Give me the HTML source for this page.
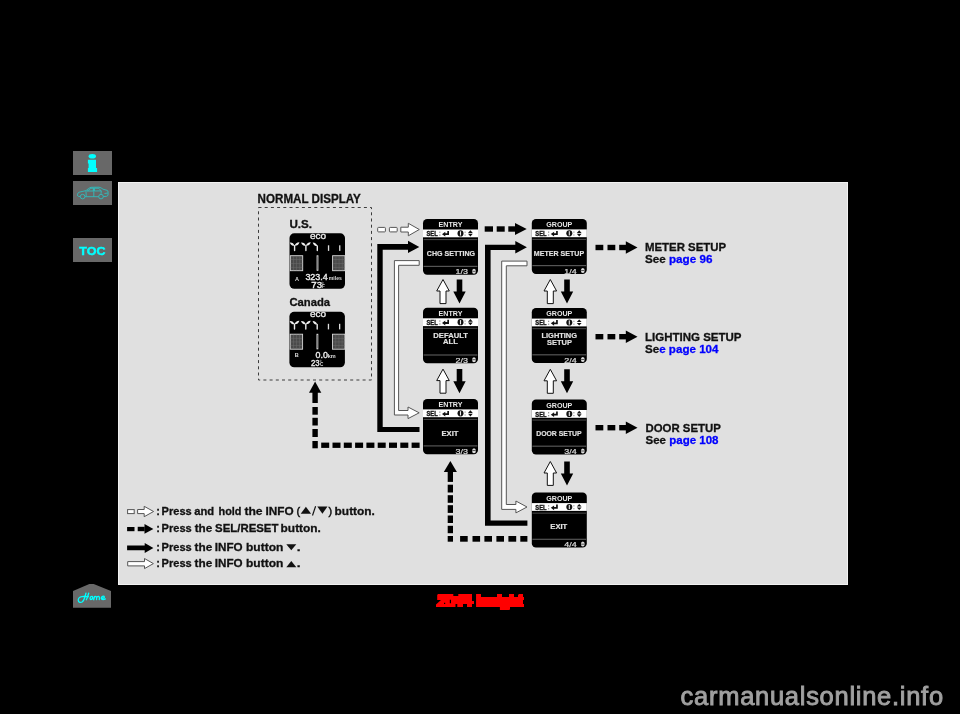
<!DOCTYPE html>
<html><head><meta charset="utf-8"><style>
html,body{margin:0;padding:0;background:#000;width:960px;height:714px;overflow:hidden;font-family:"Liberation Sans",sans-serif;}
.btn{position:absolute;left:73px;width:39px;height:24px;background:#686868;}
#panel{position:absolute;left:118px;top:182px;width:728px;height:401px;background:#e0e0e0;border:1px solid #f2f2f2;}
svg text{font-family:"Liberation Sans",sans-serif;}
svg{will-change:transform;}
</style></head><body>
<div class="btn" style="top:151px"><svg width="39" height="24"><ellipse cx="19.3" cy="5.3" rx="3.7" ry="2.3" fill="#00ffff"/><path d="M14.9,8.7 L23,8.7 L23,17 L24.1,17 L24.1,20.9 L14.9,20.9 L14.9,17 L15.6,17 L15.6,12.4 L14.9,12.4 Z" fill="#00ffff"/></svg></div>
<div class="btn" style="top:181px"><svg width="39" height="24" viewBox="0 0 39 24"><g fill="none" stroke="#2cc4c4" stroke-width="0.85" stroke-linejoin="round">
<path d="M7.2,15.6 L5.6,15.4 Q4.4,15.1 4.4,13.8 Q4.4,12 6.2,11.2 L13,9.6 Q15.8,6.9 18,6.3 L26,6.2 Q28.2,6.6 30,8.2 L34,9.3 Q35.2,9.8 35.1,11.2 L35,14 Q34.8,15 33.6,15.3 L30.4,15.6"/>
<path d="M25.6,15.7 L12,15.7"/>
<circle cx="9.6" cy="15.6" r="2.3"/><circle cx="28" cy="15.6" r="2.3"/>
<path d="M14.2,10 L18,7.3 L20.3,7.2 L20.3,10 Z M21.4,7.2 L25.8,7.3 L28.2,9.9 L21.4,10 Z"/>
<path d="M13,10 L13.2,15.3 M20.8,7 L20.8,15.5 M28.3,10 L28,12.8 M31.5,12.5 L34.8,12"/>
</g></svg></div>
<div class="btn" style="top:238px"><svg width="39" height="24"><text x="6.3" y="16.9" font-size="11.6" font-weight="bold" fill="#00ffff" stroke="#00ffff" stroke-width="0.45" textLength="26.2" lengthAdjust="spacingAndGlyphs">TOC</text></svg></div>
<svg style="position:absolute;left:0;top:0" width="960" height="714"><polygon points="73,591 89.3,583.9 93.7,583.9 111,591 111,607.8 73,607.8" fill="#686868"/>
<path d="M85.96,593.17 C85.33,596.17 84.50,599.92 82.42,601.79 C80.75,603.04 78.25,602.42 78.25,599.92 C78.25,597.42 81.58,596.38 84.08,596.38 L88.46,596.67 M88.67,593.25 C88.04,595.75 87.21,598.25 86.38,599.71 M92.00,596.38 C89.92,596.17 89.50,599.50 90.96,599.50 C92.83,599.50 93.25,596.58 92.00,596.38 M93.67,599.71 L94.50,596.58 C95.33,596.17 97.00,596.17 96.58,599.50 M97.00,597.00 C97.83,596.17 99.50,596.17 99.50,597.83 L99.29,599.50 M101.79,598.46 C103.67,598.25 104.92,597.42 104.08,596.38 C102.83,595.54 101.17,597.00 101.38,598.67 C101.58,599.92 104.08,599.71 105.33,598.88" fill="none" stroke="#00ffff" stroke-width="1.35" stroke-linecap="round" stroke-linejoin="round"/></svg>
<div id="panel"></div>
<svg style="position:absolute;left:0;top:0" width="960" height="714">
<text x="257.6" y="203" font-size="11.9" font-weight="bold" fill="#111" text-anchor="start" stroke="#111" stroke-width="0.3" textLength="103.2" lengthAdjust="spacingAndGlyphs">NORMAL DISPLAY</text>
<rect x="258.5" y="207.5" width="113" height="172.5" fill="none" stroke="#3c3c3c" stroke-width="1" stroke-dasharray="3,3.2"/>
<text x="289.4" y="228.1" font-size="10.8" font-weight="bold" fill="#111" text-anchor="start" stroke="#111" stroke-width="0.3" textLength="22.6" lengthAdjust="spacingAndGlyphs">U.S.</text>
<text x="289.5" y="306.1" font-size="10.8" font-weight="bold" fill="#111" text-anchor="start" stroke="#111" stroke-width="0.3" textLength="40.6" lengthAdjust="spacingAndGlyphs">Canada</text>
<rect x="289.5" y="233.3" width="55.5" height="55.5" fill="#000" rx="4.8"/>
<text x="318.1" y="238.7" font-size="8.8" font-weight="normal" fill="#eee" text-anchor="middle" stroke="#eee" stroke-width="0.3" textLength="16.2" lengthAdjust="spacingAndGlyphs">eco</text>
<path d="M289.8,242.4 Q290.87,245.98 294.6,245.8 Q293.53,242.22 289.8,242.4 ZM294.6,245.8 Q298.39,245.92 299.5,242.3 Q295.71,242.18 294.6,245.8 ZM301.1,242.4 Q302.17,245.98 305.9,245.8 Q304.83,242.22 301.1,242.4 ZM305.9,245.8 Q309.69,245.92 310.8,242.3 Q307.01,242.18 305.9,245.8 ZM312.7,242.4 Q313.58,246.01 317.3,246 Q316.42,242.39 312.7,242.4 Z" fill="#eee"/>
<path d="M294.6,245.8 L294.6,250.5 M305.9,245.8 L305.9,250.5 M317.3,246 L317.3,250.5" stroke="#e8e8e8" stroke-width="1.4" stroke-linecap="round" fill="none"/>
<rect x="327.9" y="245.3" width="1.3" height="5.6" fill="#ddd"/>
<rect x="339.1" y="245.3" width="1.3" height="5.6" fill="#ddd"/>
<rect x="290.3" y="255.7" width="12.4" height="15" fill="#4a4a4a" stroke="#d8d8d8" stroke-width="0.9"/>
<rect x="290.8" y="259.45" width="11.4" height="0.5" fill="#6a6a6a"/>
<rect x="293.4" y="256.2" width="0.5" height="14" fill="#6a6a6a"/>
<rect x="290.8" y="263.2" width="11.4" height="0.5" fill="#6a6a6a"/>
<rect x="296.5" y="256.2" width="0.5" height="14" fill="#6a6a6a"/>
<rect x="290.8" y="266.95" width="11.4" height="0.5" fill="#6a6a6a"/>
<rect x="299.6" y="256.2" width="0.5" height="14" fill="#6a6a6a"/>
<rect x="332.6" y="255.7" width="12.4" height="15" fill="#4a4a4a" stroke="#d8d8d8" stroke-width="0.9"/>
<rect x="333.1" y="259.45" width="11.4" height="0.5" fill="#6a6a6a"/>
<rect x="335.7" y="256.2" width="0.5" height="14" fill="#6a6a6a"/>
<rect x="333.1" y="263.2" width="11.4" height="0.5" fill="#6a6a6a"/>
<rect x="338.8" y="256.2" width="0.5" height="14" fill="#6a6a6a"/>
<rect x="333.1" y="266.95" width="11.4" height="0.5" fill="#6a6a6a"/>
<rect x="341.9" y="256.2" width="0.5" height="14" fill="#6a6a6a"/>
<rect x="316.6" y="255.3" width="1.8" height="15.5" fill="#ddd"/>
<rect x="317.2" y="256.3" width="0.6" height="13.5" fill="#555"/>
<text x="295" y="280.5" font-size="5.6" font-weight="bold" fill="#ddd" text-anchor="start" textLength="4" lengthAdjust="spacingAndGlyphs">A</text>
<text x="305.4" y="279.9" font-size="8.6" font-weight="normal" fill="#eee" text-anchor="start" stroke="#eee" stroke-width="0.35" textLength="22.4" lengthAdjust="spacingAndGlyphs">323.4</text>
<text x="328.8" y="279.9" font-size="4.8" font-weight="bold" fill="#ddd" text-anchor="start" textLength="13" lengthAdjust="spacingAndGlyphs">miles</text>
<text x="311.3" y="288.1" font-size="8.4" font-weight="normal" fill="#eee" text-anchor="start" stroke="#eee" stroke-width="0.35" textLength="10.8" lengthAdjust="spacingAndGlyphs">73</text>
<text x="322.1" y="288.1" font-size="4.6" font-weight="bold" fill="#ddd" text-anchor="start">F</text>
<circle cx="322.7" cy="282.9" r="0.7" fill="none" stroke="#ccc" stroke-width="0.5"/>
<rect x="289.4" y="311.8" width="55.5" height="55.5" fill="#000" rx="4.8"/>
<text x="318" y="317.2" font-size="8.8" font-weight="normal" fill="#eee" text-anchor="middle" stroke="#eee" stroke-width="0.3" textLength="16.2" lengthAdjust="spacingAndGlyphs">eco</text>
<path d="M289.7,320.9 Q290.77,324.48 294.5,324.3 Q293.43,320.72 289.7,320.9 ZM294.5,324.3 Q298.29,324.42 299.4,320.8 Q295.61,320.68 294.5,324.3 ZM301,320.9 Q302.07,324.48 305.8,324.3 Q304.73,320.72 301,320.9 ZM305.8,324.3 Q309.59,324.42 310.7,320.8 Q306.91,320.68 305.8,324.3 ZM312.6,320.9 Q313.48,324.51 317.2,324.5 Q316.32,320.89 312.6,320.9 Z" fill="#eee"/>
<path d="M294.5,324.3 L294.5,329 M305.8,324.3 L305.8,329 M317.2,324.5 L317.2,329" stroke="#e8e8e8" stroke-width="1.4" stroke-linecap="round" fill="none"/>
<rect x="327.8" y="323.8" width="1.3" height="5.6" fill="#ddd"/>
<rect x="339" y="323.8" width="1.3" height="5.6" fill="#ddd"/>
<rect x="290.2" y="334.2" width="12.4" height="15" fill="#4a4a4a" stroke="#d8d8d8" stroke-width="0.9"/>
<rect x="290.7" y="337.95" width="11.4" height="0.5" fill="#6a6a6a"/>
<rect x="293.3" y="334.7" width="0.5" height="14" fill="#6a6a6a"/>
<rect x="290.7" y="341.7" width="11.4" height="0.5" fill="#6a6a6a"/>
<rect x="296.4" y="334.7" width="0.5" height="14" fill="#6a6a6a"/>
<rect x="290.7" y="345.45" width="11.4" height="0.5" fill="#6a6a6a"/>
<rect x="299.5" y="334.7" width="0.5" height="14" fill="#6a6a6a"/>
<rect x="332.5" y="334.2" width="12.4" height="15" fill="#4a4a4a" stroke="#d8d8d8" stroke-width="0.9"/>
<rect x="333" y="337.95" width="11.4" height="0.5" fill="#6a6a6a"/>
<rect x="335.6" y="334.7" width="0.5" height="14" fill="#6a6a6a"/>
<rect x="333" y="341.7" width="11.4" height="0.5" fill="#6a6a6a"/>
<rect x="338.7" y="334.7" width="0.5" height="14" fill="#6a6a6a"/>
<rect x="333" y="345.45" width="11.4" height="0.5" fill="#6a6a6a"/>
<rect x="341.8" y="334.7" width="0.5" height="14" fill="#6a6a6a"/>
<rect x="316.5" y="333.8" width="1.8" height="15.5" fill="#ddd"/>
<rect x="317.1" y="334.8" width="0.6" height="13.5" fill="#555"/>
<text x="294.8" y="356.5" font-size="5.6" font-weight="bold" fill="#ddd" text-anchor="start" textLength="4" lengthAdjust="spacingAndGlyphs">B</text>
<text x="315.5" y="358.3" font-size="8.6" font-weight="normal" fill="#eee" text-anchor="start" stroke="#eee" stroke-width="0.35" textLength="12.3" lengthAdjust="spacingAndGlyphs">0.0</text>
<text x="327.7" y="358.3" font-size="4.8" font-weight="bold" fill="#ddd" text-anchor="start" textLength="8" lengthAdjust="spacingAndGlyphs">km</text>
<text x="311" y="366.1" font-size="8.4" font-weight="normal" fill="#eee" text-anchor="start" stroke="#eee" stroke-width="0.35" textLength="8.6" lengthAdjust="spacingAndGlyphs">23</text>
<text x="320" y="366.1" font-size="4.6" font-weight="bold" fill="#ddd" text-anchor="start">C</text>
<circle cx="320.6" cy="360.9" r="0.7" fill="none" stroke="#ccc" stroke-width="0.5"/>
<rect x="423" y="219" width="55" height="55.7" fill="#000" rx="4.2"/>
<text x="450.5" y="227.1" font-size="7.1" font-weight="bold" fill="#e8e8e8" text-anchor="middle">ENTRY</text>
<rect x="423" y="229.5" width="55" height="7.8" fill="#fff"/>
<rect x="423.6" y="239" width="53.8" height="1.1" fill="#444"/>
<rect x="423.6" y="265.8" width="53.8" height="1.2" fill="#555"/>
<text x="426.5" y="236.2" font-size="6.5" font-weight="bold" fill="#111" text-anchor="start" stroke="#111" stroke-width="0.35" textLength="11.2" lengthAdjust="spacingAndGlyphs">SEL</text>
<rect x="439.3" y="231.6" width="1.1" height="1.3" fill="#888"/>
<rect x="439.3" y="234.5" width="1.1" height="1.3" fill="#888"/>
<path d="M442,234.2 L445.3,231.8 L445.3,233.3 L447.3,233.3 L447.3,231 L449,231 L449,235.1 L445.3,235.1 L445.3,236.6 Z" fill="#111"/>
<ellipse cx="460.5" cy="233.4" rx="3" ry="3.1" fill="#111"/>
<rect x="459.95" y="231.3" width="1.1" height="4.2" fill="#eee"/>
<rect x="464.6" y="231.6" width="1" height="1.2" fill="#888"/>
<rect x="464.6" y="234.5" width="1" height="1.2" fill="#888"/>
<path d="M468,233 L470.4,230.3 L472.8,233 Z M468,233.8 L470.4,236.5 L472.8,233.8 Z" fill="#111"/>
<text x="426.8" y="256.2" font-size="7.1" font-weight="bold" fill="#e2e2e2" text-anchor="start" stroke="#e2e2e2" stroke-width="0.15" textLength="48.3" lengthAdjust="spacingAndGlyphs">CHG SETTING</text>
<text x="455.5" y="274.4" font-size="7" font-weight="normal" fill="#ddd" text-anchor="start" stroke="#ddd" stroke-width="0.2" textLength="12.4" lengthAdjust="spacingAndGlyphs">1/3</text>
<ellipse cx="474" cy="271.2" rx="1.9" ry="2.5" fill="#ddd"/>
<rect x="472.3" y="270.9" width="3.4" height="0.6" fill="#000"/>
<rect x="423" y="307.8" width="55" height="55.5" fill="#000" rx="4.2"/>
<text x="450.5" y="315.9" font-size="7.1" font-weight="bold" fill="#e8e8e8" text-anchor="middle">ENTRY</text>
<rect x="423" y="318.3" width="55" height="7.8" fill="#fff"/>
<rect x="423.6" y="327.8" width="53.8" height="1.1" fill="#444"/>
<rect x="423.6" y="354.4" width="53.8" height="1.2" fill="#555"/>
<text x="426.5" y="325" font-size="6.5" font-weight="bold" fill="#111" text-anchor="start" stroke="#111" stroke-width="0.35" textLength="11.2" lengthAdjust="spacingAndGlyphs">SEL</text>
<rect x="439.3" y="320.4" width="1.1" height="1.3" fill="#888"/>
<rect x="439.3" y="323.3" width="1.1" height="1.3" fill="#888"/>
<path d="M442,323 L445.3,320.6 L445.3,322.1 L447.3,322.1 L447.3,319.8 L449,319.8 L449,323.9 L445.3,323.9 L445.3,325.4 Z" fill="#111"/>
<ellipse cx="460.5" cy="322.2" rx="3" ry="3.1" fill="#111"/>
<rect x="459.95" y="320.1" width="1.1" height="4.2" fill="#eee"/>
<rect x="464.6" y="320.4" width="1" height="1.2" fill="#888"/>
<rect x="464.6" y="323.3" width="1" height="1.2" fill="#888"/>
<path d="M468,321.8 L470.4,319.1 L472.8,321.8 Z M468,322.6 L470.4,325.3 L472.8,322.6 Z" fill="#111"/>
<text x="433.35" y="337.5" font-size="7.1" font-weight="bold" fill="#e2e2e2" text-anchor="start" stroke="#e2e2e2" stroke-width="0.15" textLength="34.55" lengthAdjust="spacingAndGlyphs">DEFAULT</text>
<text x="443" y="344.4" font-size="7.1" font-weight="bold" fill="#e2e2e2" text-anchor="start" stroke="#e2e2e2" stroke-width="0.15" textLength="14.9" lengthAdjust="spacingAndGlyphs">ALL</text>
<text x="455.5" y="363" font-size="7" font-weight="normal" fill="#ddd" text-anchor="start" stroke="#ddd" stroke-width="0.2" textLength="12.4" lengthAdjust="spacingAndGlyphs">2/3</text>
<ellipse cx="474" cy="359.8" rx="1.9" ry="2.5" fill="#ddd"/>
<rect x="472.3" y="359.5" width="3.4" height="0.6" fill="#000"/>
<rect x="423" y="398.9" width="55" height="55.3" fill="#000" rx="4.2"/>
<text x="450.5" y="407" font-size="7.1" font-weight="bold" fill="#e8e8e8" text-anchor="middle">ENTRY</text>
<rect x="423" y="409.4" width="55" height="7.8" fill="#fff"/>
<rect x="423.6" y="418.9" width="53.8" height="1.1" fill="#444"/>
<rect x="423.6" y="445.3" width="53.8" height="1.2" fill="#555"/>
<text x="426.5" y="416.1" font-size="6.5" font-weight="bold" fill="#111" text-anchor="start" stroke="#111" stroke-width="0.35" textLength="11.2" lengthAdjust="spacingAndGlyphs">SEL</text>
<rect x="439.3" y="411.5" width="1.1" height="1.3" fill="#888"/>
<rect x="439.3" y="414.4" width="1.1" height="1.3" fill="#888"/>
<path d="M442,414.1 L445.3,411.7 L445.3,413.2 L447.3,413.2 L447.3,410.9 L449,410.9 L449,415 L445.3,415 L445.3,416.5 Z" fill="#111"/>
<ellipse cx="460.5" cy="413.3" rx="3" ry="3.1" fill="#111"/>
<rect x="459.95" y="411.2" width="1.1" height="4.2" fill="#eee"/>
<rect x="464.6" y="411.5" width="1" height="1.2" fill="#888"/>
<rect x="464.6" y="414.4" width="1" height="1.2" fill="#888"/>
<path d="M468,412.9 L470.4,410.2 L472.8,412.9 Z M468,413.7 L470.4,416.4 L472.8,413.7 Z" fill="#111"/>
<text x="441.5" y="435.9" font-size="7.1" font-weight="bold" fill="#e2e2e2" text-anchor="start" stroke="#e2e2e2" stroke-width="0.15" textLength="17" lengthAdjust="spacingAndGlyphs">EXIT</text>
<text x="455.5" y="453.9" font-size="7" font-weight="normal" fill="#ddd" text-anchor="start" stroke="#ddd" stroke-width="0.2" textLength="12.4" lengthAdjust="spacingAndGlyphs">3/3</text>
<ellipse cx="474" cy="450.7" rx="1.9" ry="2.5" fill="#ddd"/>
<rect x="472.3" y="450.4" width="3.4" height="0.6" fill="#000"/>
<rect x="531.8" y="218.9" width="55" height="55" fill="#000" rx="4.2"/>
<text x="559.3" y="227" font-size="7.1" font-weight="bold" fill="#e8e8e8" text-anchor="middle">GROUP</text>
<rect x="531.8" y="229.4" width="55" height="7.8" fill="#fff"/>
<rect x="532.4" y="238.9" width="53.8" height="1.1" fill="#444"/>
<rect x="532.4" y="265" width="53.8" height="1.2" fill="#555"/>
<text x="535.3" y="236.1" font-size="6.5" font-weight="bold" fill="#111" text-anchor="start" stroke="#111" stroke-width="0.35" textLength="11.2" lengthAdjust="spacingAndGlyphs">SEL</text>
<rect x="548.1" y="231.5" width="1.1" height="1.3" fill="#888"/>
<rect x="548.1" y="234.4" width="1.1" height="1.3" fill="#888"/>
<path d="M550.8,234.1 L554.1,231.7 L554.1,233.2 L556.1,233.2 L556.1,230.9 L557.8,230.9 L557.8,235 L554.1,235 L554.1,236.5 Z" fill="#111"/>
<ellipse cx="569.3" cy="233.3" rx="3" ry="3.1" fill="#111"/>
<rect x="568.75" y="231.2" width="1.1" height="4.2" fill="#eee"/>
<rect x="573.4" y="231.5" width="1" height="1.2" fill="#888"/>
<rect x="573.4" y="234.4" width="1" height="1.2" fill="#888"/>
<path d="M576.8,232.9 L579.2,230.2 L581.6,232.9 Z M576.8,233.7 L579.2,236.4 L581.6,233.7 Z" fill="#111"/>
<text x="533.8" y="255.6" font-size="7.1" font-weight="bold" fill="#e2e2e2" text-anchor="start" stroke="#e2e2e2" stroke-width="0.15" textLength="50.3" lengthAdjust="spacingAndGlyphs">METER SETUP</text>
<text x="564.3" y="273.6" font-size="7" font-weight="normal" fill="#ddd" text-anchor="start" stroke="#ddd" stroke-width="0.2" textLength="12.4" lengthAdjust="spacingAndGlyphs">1/4</text>
<ellipse cx="582.8" cy="270.4" rx="1.9" ry="2.5" fill="#ddd"/>
<rect x="581.1" y="270.1" width="3.4" height="0.6" fill="#000"/>
<rect x="531.8" y="308.1" width="55" height="55" fill="#000" rx="4.2"/>
<text x="559.3" y="316.2" font-size="7.1" font-weight="bold" fill="#e8e8e8" text-anchor="middle">GROUP</text>
<rect x="531.8" y="318.6" width="55" height="7.8" fill="#fff"/>
<rect x="532.4" y="328.1" width="53.8" height="1.1" fill="#444"/>
<rect x="532.4" y="354.2" width="53.8" height="1.2" fill="#555"/>
<text x="535.3" y="325.3" font-size="6.5" font-weight="bold" fill="#111" text-anchor="start" stroke="#111" stroke-width="0.35" textLength="11.2" lengthAdjust="spacingAndGlyphs">SEL</text>
<rect x="548.1" y="320.7" width="1.1" height="1.3" fill="#888"/>
<rect x="548.1" y="323.6" width="1.1" height="1.3" fill="#888"/>
<path d="M550.8,323.3 L554.1,320.9 L554.1,322.4 L556.1,322.4 L556.1,320.1 L557.8,320.1 L557.8,324.2 L554.1,324.2 L554.1,325.7 Z" fill="#111"/>
<ellipse cx="569.3" cy="322.5" rx="3" ry="3.1" fill="#111"/>
<rect x="568.75" y="320.4" width="1.1" height="4.2" fill="#eee"/>
<rect x="573.4" y="320.7" width="1" height="1.2" fill="#888"/>
<rect x="573.4" y="323.6" width="1" height="1.2" fill="#888"/>
<path d="M576.8,322.1 L579.2,319.4 L581.6,322.1 Z M576.8,322.9 L579.2,325.6 L581.6,322.9 Z" fill="#111"/>
<text x="541.5" y="337.8" font-size="7.1" font-weight="bold" fill="#e2e2e2" text-anchor="start" stroke="#e2e2e2" stroke-width="0.15" textLength="35.5" lengthAdjust="spacingAndGlyphs">LIGHTING</text>
<text x="547.1" y="344.7" font-size="7.1" font-weight="bold" fill="#e2e2e2" text-anchor="start" stroke="#e2e2e2" stroke-width="0.15" textLength="24.9" lengthAdjust="spacingAndGlyphs">SETUP</text>
<text x="564.3" y="362.8" font-size="7" font-weight="normal" fill="#ddd" text-anchor="start" stroke="#ddd" stroke-width="0.2" textLength="12.4" lengthAdjust="spacingAndGlyphs">2/4</text>
<ellipse cx="582.8" cy="359.6" rx="1.9" ry="2.5" fill="#ddd"/>
<rect x="581.1" y="359.3" width="3.4" height="0.6" fill="#000"/>
<rect x="531.8" y="399.5" width="55" height="55" fill="#000" rx="4.2"/>
<text x="559.3" y="407.6" font-size="7.1" font-weight="bold" fill="#e8e8e8" text-anchor="middle">GROUP</text>
<rect x="531.8" y="410" width="55" height="7.8" fill="#fff"/>
<rect x="532.4" y="419.5" width="53.8" height="1.1" fill="#444"/>
<rect x="532.4" y="445.6" width="53.8" height="1.2" fill="#555"/>
<text x="535.3" y="416.7" font-size="6.5" font-weight="bold" fill="#111" text-anchor="start" stroke="#111" stroke-width="0.35" textLength="11.2" lengthAdjust="spacingAndGlyphs">SEL</text>
<rect x="548.1" y="412.1" width="1.1" height="1.3" fill="#888"/>
<rect x="548.1" y="415" width="1.1" height="1.3" fill="#888"/>
<path d="M550.8,414.7 L554.1,412.3 L554.1,413.8 L556.1,413.8 L556.1,411.5 L557.8,411.5 L557.8,415.6 L554.1,415.6 L554.1,417.1 Z" fill="#111"/>
<ellipse cx="569.3" cy="413.9" rx="3" ry="3.1" fill="#111"/>
<rect x="568.75" y="411.8" width="1.1" height="4.2" fill="#eee"/>
<rect x="573.4" y="412.1" width="1" height="1.2" fill="#888"/>
<rect x="573.4" y="415" width="1" height="1.2" fill="#888"/>
<path d="M576.8,413.5 L579.2,410.8 L581.6,413.5 Z M576.8,414.3 L579.2,417 L581.6,414.3 Z" fill="#111"/>
<text x="536.2" y="435.9" font-size="7.1" font-weight="bold" fill="#e2e2e2" text-anchor="start" stroke="#e2e2e2" stroke-width="0.15" textLength="45.45" lengthAdjust="spacingAndGlyphs">DOOR SETUP</text>
<text x="564.3" y="454.2" font-size="7" font-weight="normal" fill="#ddd" text-anchor="start" stroke="#ddd" stroke-width="0.2" textLength="12.4" lengthAdjust="spacingAndGlyphs">3/4</text>
<ellipse cx="582.8" cy="451" rx="1.9" ry="2.5" fill="#ddd"/>
<rect x="581.1" y="450.7" width="3.4" height="0.6" fill="#000"/>
<rect x="531.8" y="492.6" width="55" height="55" fill="#000" rx="4.2"/>
<text x="559.3" y="500.7" font-size="7.1" font-weight="bold" fill="#e8e8e8" text-anchor="middle">GROUP</text>
<rect x="531.8" y="503.1" width="55" height="7.8" fill="#fff"/>
<rect x="532.4" y="512.6" width="53.8" height="1.1" fill="#444"/>
<rect x="532.4" y="538.7" width="53.8" height="1.2" fill="#555"/>
<text x="535.3" y="509.8" font-size="6.5" font-weight="bold" fill="#111" text-anchor="start" stroke="#111" stroke-width="0.35" textLength="11.2" lengthAdjust="spacingAndGlyphs">SEL</text>
<rect x="548.1" y="505.2" width="1.1" height="1.3" fill="#888"/>
<rect x="548.1" y="508.1" width="1.1" height="1.3" fill="#888"/>
<path d="M550.8,507.8 L554.1,505.4 L554.1,506.9 L556.1,506.9 L556.1,504.6 L557.8,504.6 L557.8,508.7 L554.1,508.7 L554.1,510.2 Z" fill="#111"/>
<ellipse cx="569.3" cy="507" rx="3" ry="3.1" fill="#111"/>
<rect x="568.75" y="504.9" width="1.1" height="4.2" fill="#eee"/>
<rect x="573.4" y="505.2" width="1" height="1.2" fill="#888"/>
<rect x="573.4" y="508.1" width="1" height="1.2" fill="#888"/>
<path d="M576.8,506.6 L579.2,503.9 L581.6,506.6 Z M576.8,507.4 L579.2,510.1 L581.6,507.4 Z" fill="#111"/>
<text x="550.3" y="529.1" font-size="7.1" font-weight="bold" fill="#e2e2e2" text-anchor="start" stroke="#e2e2e2" stroke-width="0.15" textLength="17" lengthAdjust="spacingAndGlyphs">EXIT</text>
<text x="564.3" y="547.3" font-size="7" font-weight="normal" fill="#ddd" text-anchor="start" stroke="#ddd" stroke-width="0.2" textLength="12.4" lengthAdjust="spacingAndGlyphs">4/4</text>
<ellipse cx="582.8" cy="544.1" rx="1.9" ry="2.5" fill="#ddd"/>
<rect x="581.1" y="543.8" width="3.4" height="0.6" fill="#000"/>
<polygon points="443,279.5 449.3,291 446,291 446,303.6 440,303.6 440,291 436.7,291" fill="#fff" stroke="#111" stroke-width="1" stroke-linejoin="miter"/>
<polygon points="456.7,279.5 462.3,279.5 462.3,291.6 465.7,291.6 459.5,303.6 453.3,291.6 456.7,291.6" fill="#000"/>
<polygon points="443,369.1 449.3,380.6 446,380.6 446,393.2 440,393.2 440,380.6 436.7,380.6" fill="#fff" stroke="#111" stroke-width="1" stroke-linejoin="miter"/>
<polygon points="456.7,369.1 462.3,369.1 462.3,381.2 465.7,381.2 459.5,393.2 453.3,381.2 456.7,381.2" fill="#000"/>
<polygon points="550.3,279.5 556.6,291 553.3,291 553.3,303.6 547.3,303.6 547.3,291 544,291" fill="#fff" stroke="#111" stroke-width="1" stroke-linejoin="miter"/>
<polygon points="564.2,279.5 569.8,279.5 569.8,291.6 573.2,291.6 567,303.6 560.8,291.6 564.2,291.6" fill="#000"/>
<polygon points="550.3,369.3 556.6,380.8 553.3,380.8 553.3,393.3 547.3,393.3 547.3,380.8 544,380.8" fill="#fff" stroke="#111" stroke-width="1" stroke-linejoin="miter"/>
<polygon points="564.2,369.3 569.8,369.3 569.8,381.3 573.2,381.3 567,393.3 560.8,381.3 564.2,381.3" fill="#000"/>
<polygon points="550.3,461.5 556.6,473 553.3,473 553.3,485.4 547.3,485.4 547.3,473 544,473" fill="#fff" stroke="#111" stroke-width="1" stroke-linejoin="miter"/>
<polygon points="564.2,461.5 569.8,461.5 569.8,473.4 573.2,473.4 567,485.4 560.8,473.4 564.2,473.4" fill="#000"/>
<rect x="377.7" y="227.4" width="7.7" height="4.5" fill="#fff" stroke="#555" stroke-width="1" rx="0.8"/>
<rect x="389.4" y="227.4" width="7.8" height="4.5" fill="#fff" stroke="#555" stroke-width="1" rx="0.8"/>
<polygon points="400.8,227.2 408.3,227.2 408.3,223.3 419.3,229.5 408.3,235.8 408.3,232 400.8,232" fill="#fff" stroke="#555" stroke-width="1" stroke-linejoin="miter"/>
<polygon points="377.3,244.1 408,244.1 408,240.7 419.3,246.9 408,252.9 408,249.7 382.7,249.7 382.7,427 419.5,427 419.5,432.1 377.3,432.1" fill="#000"/>
<polygon points="394.4,260.6 419.2,260.6 419.2,265.3 398.6,265.3 398.6,410.5 408,410.5 408,407 419.2,412.8 408,418.6 408,415 394.4,415" fill="#fff" stroke="#555" stroke-width="1" stroke-linejoin="miter"/>
<rect x="411.6" y="442.6" width="8" height="5.3" fill="#000"/>
<rect x="400.3" y="442.6" width="8" height="5.3" fill="#000"/>
<rect x="389" y="442.6" width="8" height="5.3" fill="#000"/>
<rect x="377.7" y="442.6" width="8" height="5.3" fill="#000"/>
<rect x="366.4" y="442.6" width="8" height="5.3" fill="#000"/>
<rect x="355.1" y="442.6" width="8" height="5.3" fill="#000"/>
<rect x="343.8" y="442.6" width="8" height="5.3" fill="#000"/>
<rect x="332.5" y="442.6" width="8" height="5.3" fill="#000"/>
<rect x="321.2" y="442.6" width="8" height="5.3" fill="#000"/>
<rect x="312.4" y="441" width="5.4" height="7.3" fill="#000"/>
<rect x="312.4" y="429" width="5.4" height="8" fill="#000"/>
<rect x="312.4" y="417.8" width="5.4" height="7.7" fill="#000"/>
<rect x="312.4" y="407" width="5.4" height="7.7" fill="#000"/>
<rect x="312.4" y="392" width="5.4" height="11" fill="#000"/>
<polygon points="309,392.8 315.1,381.6 321.3,392.8" fill="#000"/>
<rect x="484.7" y="226.3" width="8.3" height="5.4" fill="#000"/>
<rect x="496.7" y="226.3" width="8" height="5.4" fill="#000"/>
<rect x="508.3" y="226.3" width="7" height="5.4" fill="#000"/>
<polygon points="515,223 526.7,229 515,235" fill="#000"/>
<polygon points="485,244.7 515.3,244.7 515.3,241 526.9,247.3 515.3,253.5 515.3,250.1 490.6,250.1 490.6,520.5 527.4,520.5 527.4,525.8 485,525.8" fill="#000"/>
<polygon points="501.7,261.1 527,261.1 527,265.8 506.3,265.8 506.3,504.5 515.9,504.5 515.9,501 527,507 515.9,512.9 515.9,509.4 501.7,509.4" fill="#fff" stroke="#555" stroke-width="1" stroke-linejoin="miter"/>
<rect x="460.1" y="536" width="7.6" height="5.7" fill="#000"/>
<rect x="472.5" y="536" width="7.6" height="5.7" fill="#000"/>
<rect x="484.4" y="536" width="7.6" height="5.7" fill="#000"/>
<rect x="496.4" y="536" width="7.6" height="5.7" fill="#000"/>
<rect x="508.4" y="536" width="7.8" height="5.7" fill="#000"/>
<rect x="520.3" y="536" width="7.1" height="5.7" fill="#000"/>
<rect x="447.7" y="536" width="5.3" height="5.7" fill="#000"/>
<rect x="447.7" y="484.7" width="5.3" height="7.8" fill="#000"/>
<rect x="447.7" y="495.2" width="5.3" height="7.6" fill="#000"/>
<rect x="447.7" y="505.2" width="5.3" height="7.7" fill="#000"/>
<rect x="447.7" y="515.5" width="5.3" height="7.5" fill="#000"/>
<rect x="447.7" y="525.8" width="5.3" height="7.4" fill="#000"/>
<rect x="447.7" y="471.5" width="5.3" height="10.4" fill="#000"/>
<polygon points="443.8,472.1 450.35,461 456.9,472.1" fill="#000"/>
<rect x="595.5" y="244.8" width="7.8" height="5.4" fill="#000"/>
<rect x="607.5" y="244.8" width="7.8" height="5.4" fill="#000"/>
<rect x="619.2" y="244.8" width="6.8" height="5.4" fill="#000"/>
<polygon points="625.8,241.3 637.5,247.5 625.8,253.7" fill="#000"/>
<text x="645" y="251.3" font-size="11.2" font-weight="bold" fill="#111" stroke="#111" stroke-width="0.3" textLength="81.1" lengthAdjust="spacingAndGlyphs">METER SETUP</text>
<text x="645" y="263.1" font-size="11.2" font-weight="bold" fill="#111" stroke="#111" stroke-width="0.3" textLength="67.4" lengthAdjust="spacingAndGlyphs">See <tspan fill="#0000ff" stroke="#0000ff">page 96</tspan></text>
<rect x="595.5" y="334" width="7.8" height="5.4" fill="#000"/>
<rect x="607.5" y="334" width="7.8" height="5.4" fill="#000"/>
<rect x="619.2" y="334" width="6.8" height="5.4" fill="#000"/>
<polygon points="625.8,330.5 637.5,336.7 625.8,342.9" fill="#000"/>
<text x="645" y="340.9" font-size="11.2" font-weight="bold" fill="#111" stroke="#111" stroke-width="0.3" textLength="96.5" lengthAdjust="spacingAndGlyphs">LIGHTING SETUP</text>
<text x="645" y="352.7" font-size="11.2" font-weight="bold" fill="#111" stroke="#111" stroke-width="0.3" textLength="73.5" lengthAdjust="spacingAndGlyphs">Se<tspan fill="#0000ff" stroke="#0000ff">e page 104</tspan></text>
<rect x="595.5" y="425" width="7.8" height="5.4" fill="#000"/>
<rect x="607.5" y="425" width="7.8" height="5.4" fill="#000"/>
<rect x="619.2" y="425" width="6.8" height="5.4" fill="#000"/>
<polygon points="625.8,421.5 637.5,427.7 625.8,433.9" fill="#000"/>
<text x="645.5" y="431.8" font-size="11.2" font-weight="bold" fill="#111" stroke="#111" stroke-width="0.3" textLength="75.3" lengthAdjust="spacingAndGlyphs">DOOR SETUP</text>
<text x="645.5" y="443.6" font-size="11.2" font-weight="bold" fill="#111" stroke="#111" stroke-width="0.3" textLength="73" lengthAdjust="spacingAndGlyphs">See <tspan fill="#0000ff" stroke="#0000ff">page 108</tspan></text>
<rect x="127.6" y="509.6" width="6.6" height="4" fill="#fff" stroke="#555" stroke-width="1"/>
<polygon points="137.6,509.5 144.2,509.5 144.2,506.3 153.6,511.5 144.2,516.7 144.2,513.6 137.6,513.6" fill="#fff" stroke="#555" stroke-width="1" stroke-linejoin="miter"/>
<rect x="127.1" y="527" width="7.4" height="4.2" fill="#000"/>
<rect x="137.7" y="526.8" width="7" height="4.4" fill="#000"/>
<polygon points="144.5,524 153.4,529 144.5,533.8" fill="#000"/>
<polygon points="127.1,545.4 144.7,545.4 144.7,542.9 153.4,547.9 144.7,553 144.7,550.2 127.1,550.2" fill="#000"/>
<polygon points="127.7,561.6 144.5,561.6 144.5,558.5 153.4,563.6 144.5,568.6 144.5,565.9 127.7,565.9" fill="#fff" stroke="#555" stroke-width="1" stroke-linejoin="miter"/>
<text x="156.3" y="514.6" font-size="11" font-weight="bold" fill="#111" text-anchor="start" stroke="#111" stroke-width="0.3">:</text>
<text x="161.6" y="514.6" font-size="11" font-weight="bold" fill="#111" stroke="#111" stroke-width="0.3" textLength="30.1" lengthAdjust="spacingAndGlyphs">Press</text>
<text x="194.3" y="514.6" font-size="11" font-weight="bold" fill="#111" stroke="#111" stroke-width="0.3" textLength="19.9" lengthAdjust="spacingAndGlyphs">and</text>
<text x="218.5" y="514.6" font-size="11" font-weight="bold" fill="#111" stroke="#111" stroke-width="0.3" textLength="23" lengthAdjust="spacingAndGlyphs">hold</text>
<text x="244.4" y="514.6" font-size="11" font-weight="bold" fill="#111" stroke="#111" stroke-width="0.3" textLength="18.2" lengthAdjust="spacingAndGlyphs">the</text>
<text x="265.5" y="514.6" font-size="11" font-weight="bold" fill="#111" stroke="#111" stroke-width="0.3" textLength="28.1" lengthAdjust="spacingAndGlyphs">INFO</text>
<text x="296.6" y="514.6" font-size="11" fill="#111" stroke="#111" stroke-width="0.5" textLength="3.6" lengthAdjust="spacingAndGlyphs">(</text>
<text x="328.6" y="514.6" font-size="11" fill="#111" stroke="#111" stroke-width="0.5" textLength="3.6" lengthAdjust="spacingAndGlyphs">)</text>
<polygon points="300.7,513.7 311.1,513.7 305.9,506.7" fill="#111"/>
<path d="M315.6,506.2 L312.5,515.5" stroke="#111" stroke-width="1.15"/>
<polygon points="317.3,506.4 327.5,506.4 322.4,513.7" fill="#111"/>
<text x="334.6" y="514.6" font-size="11" font-weight="bold" fill="#111" stroke="#111" stroke-width="0.3" textLength="40.3" lengthAdjust="spacingAndGlyphs">button.</text>
<text x="156.3" y="531.8" font-size="11" font-weight="bold" fill="#111" text-anchor="start" stroke="#111" stroke-width="0.3">:</text>
<text x="161.6" y="531.8" font-size="11" font-weight="bold" fill="#111" stroke="#111" stroke-width="0.3" textLength="30.1" lengthAdjust="spacingAndGlyphs">Press</text>
<text x="194.7" y="531.8" font-size="11" font-weight="bold" fill="#111" stroke="#111" stroke-width="0.3" textLength="17.6" lengthAdjust="spacingAndGlyphs">the</text>
<text x="215.1" y="531.8" font-size="11" font-weight="bold" fill="#111" stroke="#111" stroke-width="0.3" textLength="63.3" lengthAdjust="spacingAndGlyphs">SEL/RESET</text>
<text x="280.6" y="531.8" font-size="11" font-weight="bold" fill="#111" stroke="#111" stroke-width="0.3" textLength="40.3" lengthAdjust="spacingAndGlyphs">button.</text>
<text x="156.3" y="550.6" font-size="11" font-weight="bold" fill="#111" text-anchor="start" stroke="#111" stroke-width="0.3">:</text>
<text x="161.6" y="550.6" font-size="11" font-weight="bold" fill="#111" stroke="#111" stroke-width="0.3" textLength="30.1" lengthAdjust="spacingAndGlyphs">Press</text>
<text x="194.5" y="550.6" font-size="11" font-weight="bold" fill="#111" stroke="#111" stroke-width="0.3" textLength="17.7" lengthAdjust="spacingAndGlyphs">the</text>
<text x="214.8" y="550.6" font-size="11" font-weight="bold" fill="#111" stroke="#111" stroke-width="0.3" textLength="27.8" lengthAdjust="spacingAndGlyphs">INFO</text>
<text x="246" y="550.6" font-size="11" font-weight="bold" fill="#111" stroke="#111" stroke-width="0.3" textLength="37.3" lengthAdjust="spacingAndGlyphs">button</text>
<text x="296.8" y="550.6" font-size="11" font-weight="bold" fill="#111" stroke="#111" stroke-width="0.3" textLength="3.8" lengthAdjust="spacingAndGlyphs">.</text>
<polygon points="286.3,544.3 296.3,544.3 291.3,550.3" fill="#111"/>
<text x="156.3" y="567.4" font-size="11" font-weight="bold" fill="#111" text-anchor="start" stroke="#111" stroke-width="0.3">:</text>
<text x="161.6" y="567.4" font-size="11" font-weight="bold" fill="#111" stroke="#111" stroke-width="0.3" textLength="30.1" lengthAdjust="spacingAndGlyphs">Press</text>
<text x="194.5" y="567.4" font-size="11" font-weight="bold" fill="#111" stroke="#111" stroke-width="0.3" textLength="17.7" lengthAdjust="spacingAndGlyphs">the</text>
<text x="214.8" y="567.4" font-size="11" font-weight="bold" fill="#111" stroke="#111" stroke-width="0.3" textLength="27.8" lengthAdjust="spacingAndGlyphs">INFO</text>
<text x="246" y="567.4" font-size="11" font-weight="bold" fill="#111" stroke="#111" stroke-width="0.3" textLength="37.3" lengthAdjust="spacingAndGlyphs">button</text>
<text x="296.8" y="567.4" font-size="11" font-weight="bold" fill="#111" stroke="#111" stroke-width="0.3" textLength="3.8" lengthAdjust="spacingAndGlyphs">.</text>
<polygon points="286.3,567.2 296.3,567.2 291.3,561" fill="#111"/>
</svg>
<svg style="position:absolute;left:0;top:0" width="960" height="714"><path fill="#ff0000" fill-rule="evenodd" d="M437.2,595 L438,593.9 L453.3,593.9 L453.3,596 L458.3,596 L458.3,593.9 L472,593.9 L472,601 L474,601 L474,604 L472,604 L472,606.9 L467,606.9 L467,604 L463,604 L463,606.9 L457.3,606.9 L457.3,604 L455.5,604 L455.5,606.9 L436,606.9 L436,604.5 L441,600 L437.2,600 Z M449.8,599.7 L451,599.7 L451,603.2 L449.8,603.2 Z M444,602.8 L445.2,602.8 L445.2,604 L444,604 Z M476.06,593.9 L481,593.9 L481,596.9 L497,596.9 L497,593.9 L502,593.9 L502,596.9 L509,596.9 L509,593.9 L514,593.9 L514,596.9 L518,596.9 L518,595 L519,593.9 L523,593.9 L523,597 L524,597 L524,600 L523,600 L523,604 L524,604 L524,606.9 L510,606.9 L510,609.2 L509.3,609.9 L499.9,609.9 L499.9,606.9 L476.06,606.9 Z"/></svg>
<svg style="position:absolute;left:0;top:0" width="960" height="714"><text x="680.6" y="705.3" font-size="25.5" font-weight="normal" fill="#a0a0a0" stroke="#a0a0a0" stroke-width="0.9" textLength="262.5" lengthAdjust="spacing">carmanualsonline.info</text></svg>
</body></html>
